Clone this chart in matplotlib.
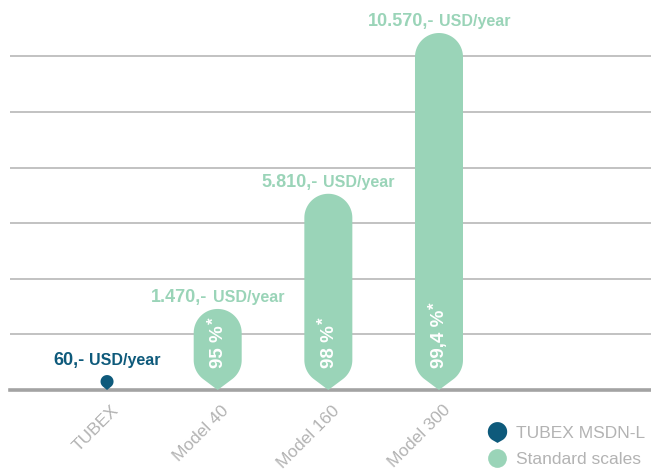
import numpy as np
import matplotlib
matplotlib.use('Agg')
import matplotlib.pyplot as plt
from matplotlib.path import Path
from matplotlib.patches import PathPatch
from matplotlib.lines import Line2D

# data
categories = ['TUBEX', 'Model 40', 'Model 160', 'Model 300']
costs = [60, 1470, 5810, 10570]
cost_labels = ['60,-', '1.470,-', '5.810,-', '10.570,-']
unit_label = 'USD/year'
savings = [None, '95 %', '98 %', '99,4 %']
legend_labels = ['TUBEX MSDN-L', 'Standard scales']

DARK = '#0e5a7b'
MINT = '#9ad4b8'
GRID = '#bdbdbd'
BASE = '#a3a3a3'
GREY_TXT = '#b3b3b3'

plt.rcParams['font.family'] = ['Liberation Sans', 'DejaVu Sans']

W, H, DPI = 651, 473, 100
fig = plt.figure(figsize=(W / DPI, H / DPI), dpi=DPI)
ax = fig.add_axes([10 / W, (H - 390) / H, 641 / W, 390 / H])
xlim = (-0.877, 4.916)
ymax = 11547
ax.set_xlim(*xlim)
ax.set_ylim(0, ymax)
ax.set_yticks(np.arange(1, 7) * 1646)
ax.yaxis.grid(True, color=GRID, lw=1.3)
ax.set_axisbelow(True)
for s in ['left', 'right', 'top']:
    ax.spines[s].set_visible(False)
ax.spines['bottom'].set_color(BASE)
ax.spines['bottom'].set_linewidth(2.6)
ax.tick_params(left=False, labelleft=False, bottom=False, labelbottom=False)

# pixels per data unit
px_x = 641 / (xlim[1] - xlim[0])
px_y = 390 / ymax


def drop_path(cx, top, r_px, ratio=1.25, n=40):
    """ rounded top, straight sides, pointed bottom touching y=0 """
    rx = r_px / px_x
    ry = r_px / px_y
    cb = ratio * ry
    ct = max(top - ry, cb)
    th = np.arccos(1.0 / ratio)
    t1 = np.linspace(0, np.pi, n)
    t2 = np.linspace(np.pi, 1.5 * np.pi - th, n)
    t3 = np.linspace(1.5 * np.pi + th, 2 * np.pi, n)
    xs = np.concatenate([cx + rx * np.cos(t1), cx + rx * np.cos(t2), [cx],
                         cx + rx * np.cos(t3)])
    ys = np.concatenate([ct + ry * np.sin(t1), cb + ry * np.sin(t2), [0],
                         cb + ry * np.sin(t3)])
    verts = np.column_stack([xs, ys])
    return Path(verts, closed=False), ct + ry


def pin_marker(ratio=1.15):
    th = np.arccos(1.0 / ratio)
    t = np.linspace(-0.5 * np.pi + th, 1.5 * np.pi - th, 60)
    c = (ratio - 1) / 2
    xs = np.concatenate([np.cos(t), [0]])
    ys = np.concatenate([np.sin(t) + c, [-ratio + c]])
    return Path(np.column_stack([xs, ys]), closed=False)


labels_out = []
for i, (cat, val) in enumerate(zip(categories, costs)):
    if i == 0:
        path, top = drop_path(i, 0, 6.5, ratio=1.3)
        col = DARK
    else:
        path, top = drop_path(i, max(val, 2400), 24)
        col = MINT
    ax.add_patch(PathPatch(path, facecolor=col, edgecolor='none', zorder=3))
    off = 10 if i == 0 else 7
    t1 = ax.annotate(cost_labels[i], (i, top), xytext=(0, off),
                     textcoords='offset pixels', ha='left', va='baseline',
                     fontsize=13, fontweight='bold', color=col, zorder=5)
    t2 = ax.annotate(unit_label, (i, top), xytext=(0, off),
                     textcoords='offset pixels', ha='left', va='baseline',
                     fontsize=11.5, fontweight='bold', color=col, zorder=5)
    labels_out.append((t1, t2, off))

    # x tick label
    ax.annotate(cat, (i, 0), xytext=(9, -18), textcoords='offset pixels',
                rotation=45, rotation_mode='anchor', ha='right', va='center',
                fontsize=12.5, color=GREY_TXT, annotation_clip=False)

pct_texts = []
for i, s in enumerate(savings):
    if s is None:
        continue
    t = ax.annotate(s, (i, 0), xytext=(1, 22), textcoords='offset pixels',
                    rotation=90, rotation_mode='anchor', ha='left', va='center',
                    fontsize=13.5, fontweight='bold', color='white', zorder=6)
    pct_texts.append((i, t))

fig.canvas.draw()
r = fig.canvas.get_renderer()
gap = 5
for t1, t2, off in labels_out:
    w1 = t1.get_window_extent(r).width
    w2 = t2.get_window_extent(r).width
    total = w1 + gap + w2
    t1.xyann = (-total / 2, off)
    t2.xyann = (-total / 2 + w1 + gap, off)

for i, t in pct_texts:
    ln = t.get_window_extent(r).height
    ax.annotate('*', (i, 0), xytext=(-4, 22 + ln + 1), textcoords='offset pixels',
                rotation=90, rotation_mode='anchor', ha='left', va='center',
                fontsize=12, fontweight='bold', color='white', zorder=6)

handles = [
    Line2D([], [], ls='none', marker=pin_marker(), markersize=15,
           markerfacecolor=DARK, markeredgecolor='none'),
    Line2D([], [], ls='none', marker='o', markersize=13.5,
           markerfacecolor=MINT, markeredgecolor='none'),
]
leg = fig.legend(handles, legend_labels, loc='center left',
                 bbox_to_anchor=(481 / W, (H - 446.5) / H), frameon=False,
                 fontsize=12.5, handlelength=1.0, handletextpad=0.6,
                 labelspacing=0.62, borderaxespad=0)
for txt in leg.get_texts():
    txt.set_color(GREY_TXT)

fig.savefig('out.png', dpi=DPI)
